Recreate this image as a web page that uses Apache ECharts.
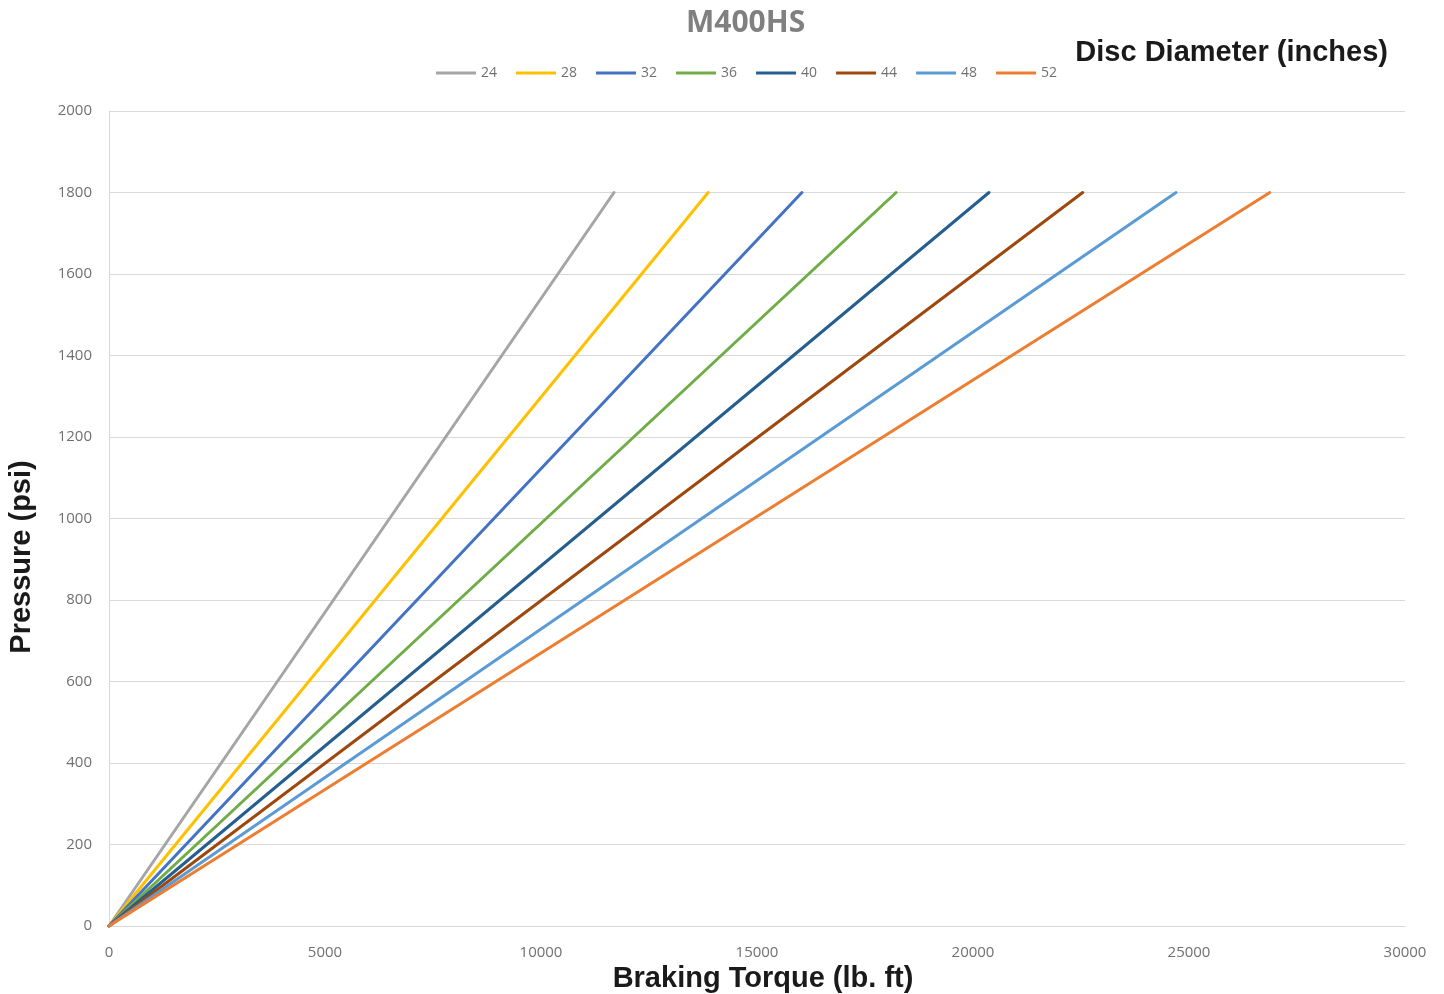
<!DOCTYPE html>
<html>
<head>
<meta charset="utf-8">
<script src="https://cdn.jsdelivr.net/npm/echarts@6/dist/echarts.min.js"></script>
<style>
html,body{margin:0;padding:0;background:#fff;}
#chart{width:1444px;height:994px;}
</style>
</head>
<body>
<div id="chart"></div>
<script>
const diameters = ['24','28','32','36','40','44','48','52'];
const maxTorque = [11690, 13870, 16040, 18220, 20370, 22540, 24700, 26870];
const maxPressure = 1800;
const colors = ['#A5A5A5','#FFC000','#4472C4','#70AD47','#255E91','#9E480E','#5B9BD5','#ED7D31'];

const series = diameters.map((d, i) => ({
  name: d,
  type: 'line',
  data: [[0, 0], [maxTorque[i], maxPressure]],
  showSymbol: false,
  symbol: 'none',
  lineStyle: { width: 3, color: colors[i], cap: 'round' },
  itemStyle: { color: colors[i] },
  animation: false
}));

const titleFont = { fontFamily: 'Liberation Sans', fontWeight: 'bold', fontSize: 29, fill: '#1a1a1a' };

const chart = echarts.init(document.getElementById('chart'));
chart.setOption({
  animation: false,
  title: [
    { text: 'M400HS', left: 681, top: 3,
      textStyle: { fontFamily: 'Open Sans', fontWeight: 'bold', fontSize: 30, color: '#808080' } },
    { text: 'Disc Diameter (inches)', right: 51, top: 33,
      textStyle: { fontFamily: 'Liberation Sans', fontWeight: 'bold', fontSize: 29, color: '#1a1a1a' } }
  ],
  legend: {
    top: 61, left: 431,
    icon: 'rect', itemWidth: 40, itemHeight: 3, itemGap: 19,
    textStyle: { fontFamily: 'Open Sans', fontSize: 14, color: '#707070' },
    data: diameters
  },
  grid: { left: 109, right: 39, top: 111, bottom: 68, containLabel: false },
  xAxis: {
    type: 'value', min: 0, max: 30000, interval: 5000,
    axisLine: { show: true, lineStyle: { color: '#d9d9d9', width: 1 } },
    axisTick: { show: false },
    splitLine: { show: false },
    axisLabel: { fontFamily: 'Open Sans', fontSize: 15, color: '#707070', margin: 19,
      formatter: v => String(v) }
  },
  yAxis: {
    type: 'value', min: 0, max: 2000, interval: 200,
    axisLine: { show: true, lineStyle: { color: '#d9d9d9', width: 1 } },
    axisTick: { show: false },
    splitLine: { show: true, lineStyle: { color: '#d9d9d9', width: 1 } },
    axisLabel: { fontFamily: 'Open Sans', fontSize: 15, color: '#707070', margin: 17,
      formatter: v => String(v) }
  },
  graphic: [
    { type: 'text', x: 763, y: 979,
      style: Object.assign({ text: 'Braking Torque (lb. ft)', align: 'center', verticalAlign: 'middle' }, titleFont) },
    { type: 'text', x: 22, y: 557, rotation: Math.PI / 2,
      style: Object.assign({ text: 'Pressure (psi)', align: 'center', verticalAlign: 'middle' }, titleFont) }
  ],
  series: series
});
</script>
</body>
</html>
